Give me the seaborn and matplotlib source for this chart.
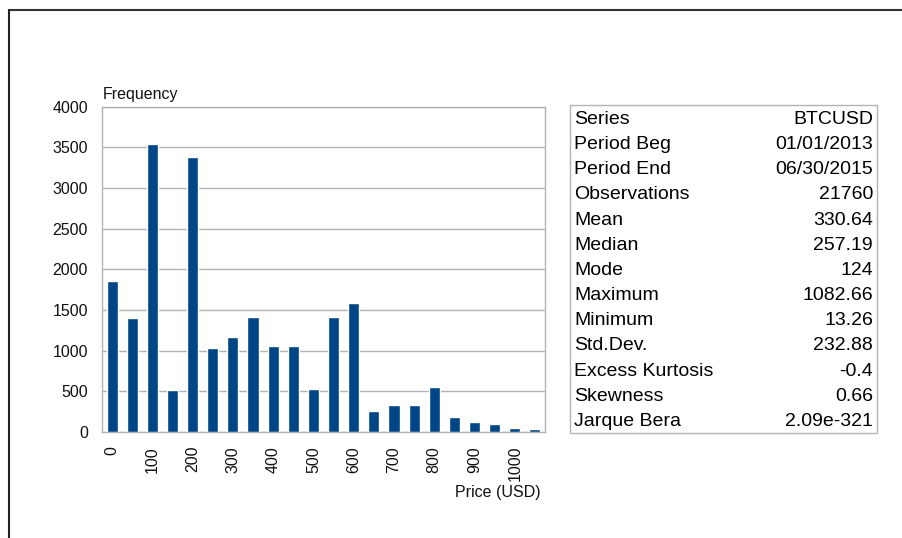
import matplotlib
matplotlib.use("Agg")
import matplotlib.pyplot as plt
from matplotlib.lines import Line2D
from matplotlib.patches import Rectangle
import seaborn as sns
import pandas as pd

# Histogram bins (lower edge of each 50 USD bucket) and their counts
bin_starts = [0, 50, 100, 150, 200, 250, 300, 350, 400, 450, 500,
              550, 600, 650, 700, 750, 800, 850, 900, 950, 1000, 1050]
frequencies = [1855, 1400, 3540, 515, 3380, 1030, 1165, 1410, 1055, 1055, 525,
               1410, 1583, 255, 328, 328, 550, 181, 119, 95, 46, 33]

# Summary statistics table
stat_names = ["Series", "Period Beg", "Period End", "Observations", "Mean",
              "Median", "Mode", "Maximum", "Minimum", "Std.Dev.",
              "Excess Kurtosis", "Skewness", "Jarque Bera"]
stat_values = ["BTCUSD", "01/01/2013", "06/30/2015", "21760", "330.64",
               "257.19", "124", "1082.66", "13.26", "232.88",
               "-0.4", "0.66", "2.09e-321"]

W, H = 903, 538
sns.set_style("white")
plt.rcParams["font.family"] = ["Liberation Sans", "DejaVu Sans"]

fig = plt.figure(figsize=(W / 100, H / 100), dpi=100)
ax = fig.add_axes([102 / W, 1 - 432 / H, (545 - 102) / W, (432 - 106.5) / H])

df = pd.DataFrame({"bin": [str(b) for b in bin_starts], "freq": frequencies})
sns.barplot(data=df, x="bin", y="freq", color="#004586", width=0.55,
            saturation=1, ax=ax, zorder=3)

grey = "#b3b3b3"
txt = "#111111"
fs_axis = 11.5
ax.set_xlim(-0.5, len(bin_starts) - 0.5)
ax.set_ylim(0, 4000)
ax.set_yticks(range(0, 4001, 500))
ax.yaxis.grid(True, color=grey, linewidth=1)
ax.set_axisbelow(True)

# Labels every other bin, tick marks on bin boundaries
major_pos = [i for i, b in enumerate(bin_starts) if b % 100 == 0]
ax.set_xticks(major_pos)
ax.set_xticklabels([str(bin_starts[i]) for i in major_pos], rotation=90)
ax.set_xticks([i - 0.5 for i in range(len(bin_starts) + 1)], minor=True)
ax.tick_params(axis="x", which="major", length=0, pad=10, labelsize=fs_axis,
               labelcolor=txt)
ax.tick_params(axis="x", which="minor", length=8, width=1, color=grey)
ax.tick_params(axis="y", which="major", length=5, width=1, color=grey,
               labelsize=fs_axis, labelcolor=txt, pad=5)
for side in ["left", "bottom", "right", "top"]:
    ax.spines[side].set_visible(True)
    ax.spines[side].set_color(grey)
    ax.spines[side].set_linewidth(1)
ax.set_xlabel("")
ax.set_ylabel("")

fig.text(103 / W, 1 - 94 / H, "Frequency", fontsize=fs_axis, color=txt,
         ha="left", va="center")
fig.text(541 / W, 1 - 492 / H, "Price (USD)", fontsize=fs_axis, color=txt,
         ha="right", va="center")

# Statistics box
x0, x1, y0, y1 = 570, 877, 105, 433
fig.add_artist(Rectangle((x0 / W, 1 - y1 / H), (x1 - x0) / W, (y1 - y0) / H,
                         transform=fig.transFigure, fill=False,
                         edgecolor=grey, linewidth=1))
row_h = 25.15
for k, (name, val) in enumerate(zip(stat_names, stat_values)):
    yc = 119.5 + k * row_h
    fig.text(574 / W, 1 - yc / H, name, fontsize=14, color="black",
             ha="left", va="center")
    fig.text(873 / W, 1 - yc / H, val, fontsize=14, color="black",
             ha="right", va="center")

# Outer frame (top and left edges)
fig.add_artist(Line2D([8.5 / W, 1], [1 - 9.5 / H, 1 - 9.5 / H],
                      transform=fig.transFigure, color="#333333", linewidth=1.5))
fig.add_artist(Line2D([8.5 / W, 8.5 / W], [0, 1 - 9.5 / H],
                      transform=fig.transFigure, color="#222222", linewidth=1.5))

fig.savefig("out.png", dpi=100, facecolor="white")
